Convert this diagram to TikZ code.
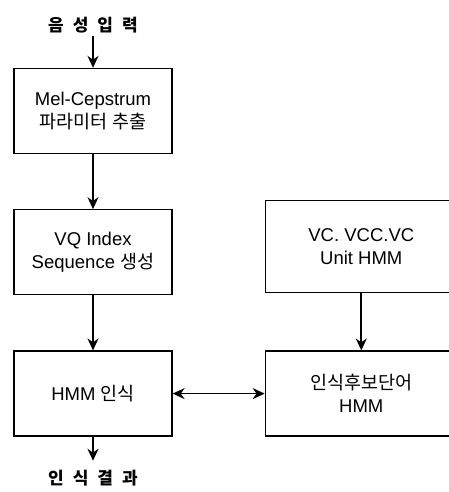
\documentclass[tikz,border=0pt]{standalone}
\usepackage{fontspec}
\setmainfont{Liberation Sans}
\newfontfamily\kr{Noto Sans CJK KR}
\usetikzlibrary{arrows.meta, positioning}

\begin{document}
\begin{tikzpicture}[
    x=1pt, y=1pt,
    >={Stealth[length=12pt,width=11pt]},
    node distance=55pt,
    font=\fontsize{18.5}{23}\selectfont,
    blocknode/.style={draw, rectangle, line width=1.3pt, minimum width=158pt, minimum height=85pt, align=center, inner sep=0pt},
    sidenode/.style={draw, rectangle, line width=1.3pt, minimum width=192pt, minimum height=85pt, align=center, inner sep=0pt},
    labelnode/.style={inner sep=3pt, font=\fontsize{17}{20}\selectfont\kr\bfseries},
    link/.style={line width=1.7pt}
  ]

  \useasboundingbox (0,0) rectangle (449,-492);

  % left column
  \node (mel) [blocknode] at (93,-111) {Mel-Cepstrum\\{\kr 파라미터 추출}};
  \node (vq) [blocknode, below=of mel] {VQ Index\\Sequence {\kr 생성}};
  \node (hmm) [blocknode, below=of vq] {HMM {\kr 인식}};

  % right column, cut off at the page edge
  \begin{scope}
    \clip (0,0) rectangle (449,-492);
    \node (cand) [sidenode, right=92pt of hmm] {{\kr 인식후보단어}\\HMM};
    \node (unit) [sidenode, above=57pt of cand, minimum height=92pt] {VC. VCC.VC\\Unit HMM};
  \end{scope}

  \node (in) [labelnode, above=32pt of mel] {음\hspace{9pt}성\hspace{9pt}입\hspace{9pt}력};
  \node (out) [labelnode, below=30pt of hmm] {인\hspace{9pt}식\hspace{9pt}결\hspace{9pt}과};

  \draw[->, link] (in) -- (mel);
  \draw[->, link] (mel) -- (vq);
  \draw[->, link] (vq) -- (hmm);
  \draw[->, link, shorten >=6pt] (hmm) -- (out);
  \draw[->, link] (unit) -- (cand);
  \draw[<->, link] (hmm) -- (cand);

\end{tikzpicture}
\end{document}
